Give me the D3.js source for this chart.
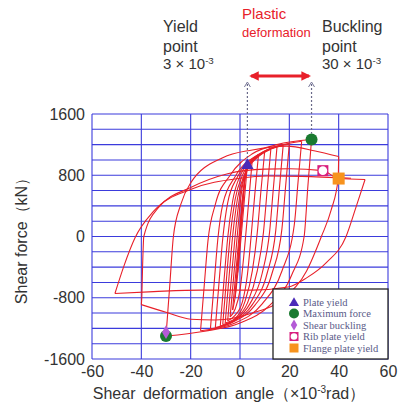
<!DOCTYPE html>
<html>
<head>
<meta charset="utf-8">
<script src="https://cdn.jsdelivr.net/npm/d3@7"></script>
<style>
body { margin: 0; background: #fff; }
text { font-family: "Liberation Sans", Arial, sans-serif; }
</style>
</head>
<body>
<div id="plot"></div>
<script>
// Tick values and grid lines
var xTicks = [-60, -40, -20, 0, 20, 40, 60];
var yTicks = [-1600, -800, 0, 800, 1600];
var yGrid = [-1600, -1400, -1200, -1000, -800, -600, -400, -200, 0, 200, 400, 600, 800, 1000, 1200, 1400, 1600];

// Hysteresis branches (deformation angle x10^-3 rad, shear force kN)
var branches = [
	[[0, 0], [1, 480]],
	[[1, 480], [-1, -470]],
	[[-1, -470], [0, -60], [1.5, 560], [2, 780]],
	[[2, 780], [1, 420], [-1, -360], [-2, -800]],
	[[-2, -800], [-0.5, -200], [1, 400], [2, 760], [3, 940]],
	[[3, 940], [1.5, 380], [-0.5, -350], [-2, -800], [-3, -960]],
	[[-3, -960], [-1.5, -400], [0, 150], [1.5, 650], [3, 880], [5, 1010]],
	[[5, 1010], [3.5, 450], [2, -100], [0, -700], [-2, -950], [-4, -1050]],
	[[-4, -1050], [-2.5, -500], [-1, 50], [0.5, 550], [2.5, 870], [5, 1000], [7.5, 1070]],
	[[7.5, 1070], [6, 550], [4.5, 0], [3, -500], [1, -850], [-2, -1030], [-5, -1100]],
	[[-5, -1100], [-3.5, -550], [-2, 0], [0, 550], [2.5, 850], [6, 1020], [10, 1110]],
	[[10, 1110], [8.5, 600], [7, 50], [5, -450], [2, -850], [-2, -1070], [-6, -1130]],
	[[-6, -1130], [-4.5, -550], [-3, 0], [-1, 500], [2, 820], [7, 1030], [12.5, 1140]],
	[[12.5, 1140], [11, 600], [9.5, 50], [7, -450], [3, -870], [-2, -1080], [-7, -1150]],
	[[-7, -1150], [-5.5, -560], [-4, 0], [-2, 480], [1, 800], [7, 1040], [15, 1170]],
	[[15, 1170], [13.5, 620], [12, 60], [9, -480], [4, -880], [-2, -1090], [-8, -1170]],
	[[-8, -1170], [-6.5, -580], [-5, -20], [-3, 460], [0, 790], [7, 1050], [17.5, 1190]],
	[[17.5, 1190], [16, 640], [14.5, 80], [11, -480], [5, -890], [-3, -1110], [-10, -1190]],
	[[-10, -1190], [-8.5, -600], [-7, -30], [-5, 440], [-1, 780], [7, 1060], [20, 1210]],
	[[20, 1210], [18.5, 660], [17, 100], [13, -480], [6, -900], [-3, -1120], [-12, -1210]],
	[[-12, -1210], [-10.5, -620], [-9, -40], [-7, 420], [-2, 780], [8, 1080], [25, 1245]],
	[[25, 1245], [23.5, 700], [22, 150], [17, -450], [9, -880], [-2, -1130], [-16, -1230]],
	[[-16, -1230], [-14.5, -640], [-13, -60], [-10, 420], [-4, 800], [5, 1080], [15, 1200], [29, 1266]],
	[[29, 1266], [27.5, 650], [26, 0], [21, -500], [12, -900], [0, -1130], [-15, -1240], [-30, -1300]],
	[[-30, -1300], [-28.5, -650], [-27, 0], [-24, 420], [-20, 700], [-7, 1030], [5, 1130], [19, 1180], [30, 1120], [40, 1044]],
	[[40, 1044], [39.8, 757], [37, 350], [33, 0], [27, -450], [18, -800], [5, -1000], [-10, -1090], [-20, -1080], [-30, -990], [-40, -890]],
	[[-40, -890], [-39.8, -783], [-39.5, -400], [-39, 0], [-33, 380], [-20, 640], [-5, 820], [10, 880], [20, 885], [33.6, 860], [40, 757], [50.7, 744]],
	[[50.7, 744], [47, 380], [43, 0], [35, -340], [27, -540], [19.5, -660], [5, -700], [-16, -700], [-35, -720], [-50.7, -744]],
	[[-50.7, -744], [-47, -380], [-42.6, -20], [-35, 330], [-19.5, 620], [0, 760], [11, 790], [25, 785], [45, 760]]
];

// Event markers
var markers = [
	{type: "triangle", x: 3, y: 940},
	{type: "circle", x: 29, y: 1266},
	{type: "rib", x: 33.6, y: 860},
	{type: "flange", x: 40, y: 757},
	{type: "circle", x: -30, y: -1300},
	{type: "diamond", x: -30, y: -1250}
];
var legendTypes = ["triangle", "circle", "diamond", "rib", "flange"];
var legendLabels = ["Plate yield", "Maximum force", "Shear buckling", "Rib plate yield", "Flange plate yield"];

var W = 399, H = 409;
var svg = d3.select("#plot").append("svg").attr("width", W).attr("height", H);

var x = d3.scaleLinear().domain([-60, 60]).range([92, 388]);
var y = d3.scaleLinear().domain([-1600, 1600]).range([359, 114]);

// Grid
var gridColor = "#3b3bdc";
svg.append("g").selectAll("line").data(yGrid).enter().append("line")
	.attr("x1", x(-60)).attr("x2", x(60))
	.attr("y1", d => y(d)).attr("y2", d => y(d))
	.attr("stroke", gridColor).attr("stroke-width", 1.1);
svg.append("g").selectAll("line").data(xTicks).enter().append("line")
	.attr("x1", d => x(d)).attr("x2", d => x(d))
	.attr("y1", y(-1600)).attr("y2", y(1600))
	.attr("stroke", gridColor).attr("stroke-width", 1.1);

// Axes (labels only)
var plain = function(d) { return String(d); };
var gx = svg.append("g").attr("transform", "translate(0," + y(-1600) + ")")
	.call(d3.axisBottom(x).tickValues(xTicks).tickFormat(plain).tickSize(0).tickPadding(7));
var gy = svg.append("g").attr("transform", "translate(" + x(-60) + ",0)")
	.call(d3.axisLeft(y).tickValues(yTicks).tickFormat(plain).tickSize(0).tickPadding(7));
[gx, gy].forEach(function(g) {
	g.select(".domain").remove();
	g.selectAll("text").style("font-family", "'Liberation Sans', Arial, sans-serif")
		.style("font-size", "16px").attr("fill", "#333");
});

// Hysteresis curves
var line = d3.line().x(d => x(d[0])).y(d => y(d[1])).curve(d3.curveMonotoneX);
svg.append("g").selectAll("path").data(branches).enter().append("path")
	.attr("d", line)
	.attr("fill", "none")
	.attr("stroke", "#e8202a")
	.attr("stroke-width", 1.1)
	.attr("stroke-linejoin", "round");

// Marker drawing
function drawMarker(g, type, cx, cy, s) {
	if (type == "triangle") {
		g.append("path").attr("d", d3.symbol(d3.symbolTriangle, s * s * 0.55)())
			.attr("transform", "translate(" + cx + "," + (cy + 1) + ")").attr("fill", "#4b2bb8");
	} else if (type == "circle") {
		g.append("circle").attr("cx", cx).attr("cy", cy).attr("r", s / 2 + 0.5).attr("fill", "#1a7a30");
	} else if (type == "diamond") {
		g.append("path").attr("d", d3.symbol(d3.symbolDiamond, s * s * 0.45)())
			.attr("transform", "translate(" + cx + "," + cy + ")").attr("fill", "#b45ad6");
	} else if (type == "rib") {
		g.append("rect").attr("x", cx - s / 2).attr("y", cy - s / 2).attr("width", s).attr("height", s)
			.attr("fill", "#d81e7e");
		g.append("circle").attr("cx", cx).attr("cy", cy).attr("r", s / 2 - 1.2).attr("fill", "#fff");
	} else if (type == "flange") {
		g.append("rect").attr("x", cx - s / 2).attr("y", cy - s / 2).attr("width", s).attr("height", s)
			.attr("fill", "#f7931e");
	}
}

// Dotted guide lines with open arrowheads
var guides = [[3, 940], [29, 1266]];
guides.forEach(function(d) {
	svg.append("line").attr("x1", x(d[0])).attr("x2", x(d[0]))
		.attr("y1", 84).attr("y2", y(d[1]) - 6)
		.attr("stroke", "#6a6a8a").attr("stroke-width", 1.2).attr("stroke-dasharray", "2,2");
	svg.append("path")
		.attr("d", "M" + (x(d[0]) - 3) + ",87 L" + x(d[0]) + ",82 L" + (x(d[0]) + 3) + ",87")
		.attr("fill", "none").attr("stroke", "#7a7a9a").attr("stroke-width", 1);
});

var mg = svg.append("g");
markers.forEach(function(m) {
	var s = m.type == "flange" ? 12 : 11;
	drawMarker(mg, m.type, x(m.x), y(m.y), s);
});

// Red double arrow
var defs = svg.append("defs");
defs.append("marker").attr("id", "ah").attr("viewBox", "0 0 10 10").attr("refX", 8).attr("refY", 5)
	.attr("markerWidth", 3.2).attr("markerHeight", 3.2).attr("orient", "auto-start-reverse")
	.append("path").attr("d", "M0,0 L10,5 L0,10 z").attr("fill", "#e8202a");
svg.append("line").attr("x1", x(4.5)).attr("x2", x(28)).attr("y1", 76).attr("y2", 76)
	.attr("stroke", "#e8202a").attr("stroke-width", 3)
	.attr("marker-start", "url(#ah)").attr("marker-end", "url(#ah)");

// Annotation text
function supText(x0, y0, base, sup, size) {
	var tx = svg.append("text").attr("x", x0).attr("y", y0).attr("fill", "#333").style("font-size", size + "px");
	tx.append("tspan").text(base);
	tx.append("tspan").attr("dy", -5).style("font-size", (size * 0.65) + "px").text(sup);
}
svg.append("text").attr("x", 163).attr("y", 32).attr("fill", "#333").style("font-size", "16px").text("Yield");
svg.append("text").attr("x", 163).attr("y", 52).attr("fill", "#333").style("font-size", "16px").text("point");
supText(163, 69, "3 × 10", "-3", 15);
svg.append("text").attr("x", 322).attr("y", 32).attr("fill", "#333").style("font-size", "16px").text("Buckling");
svg.append("text").attr("x", 322).attr("y", 52).attr("fill", "#333").style("font-size", "16px").text("point");
supText(322, 69, "30 × 10", "-3", 15);
svg.append("text").attr("x", 242).attr("y", 19).attr("fill", "#e8202a").style("font-size", "15px").text("Plastic");
svg.append("text").attr("x", 242).attr("y", 37).attr("fill", "#e8202a").style("font-size", "13px").text("deformation");

// Axis titles
svg.append("text").attr("transform", "translate(27,237) rotate(-90)")
	.attr("text-anchor", "middle").attr("fill", "#333").style("font-size", "16px")
	.text("Shear force（kN）");
var xt = svg.append("text").attr("x", 229).attr("y", 399).attr("text-anchor", "middle")
	.attr("fill", "#333").style("font-size", "16px").style("word-spacing", "3px");
xt.append("tspan").text("Shear deformation angle（×10");
xt.append("tspan").attr("dy", -6).style("font-size", "10px").text("-3");
xt.append("tspan").attr("dy", 6).text("rad）");

// Legend
var lg = svg.append("g");
lg.append("rect").attr("x", 273).attr("y", 289).attr("width", 115).attr("height", 70)
	.attr("fill", "#fff").attr("stroke", "#222").attr("stroke-width", 1.3);
legendLabels.forEach(function(lab, i) {
	var ly = 302 + i * 11.5;
	drawMarker(lg, legendTypes[i], 294, ly, 9);
	lg.append("text").attr("x", 303).attr("y", ly + 3.5)
		.style("font-family", "'Liberation Serif', 'Times New Roman', serif")
		.style("font-size", "10.5px").attr("fill", "#5a5a88").text(lab);
});
</script>
</body>
</html>
